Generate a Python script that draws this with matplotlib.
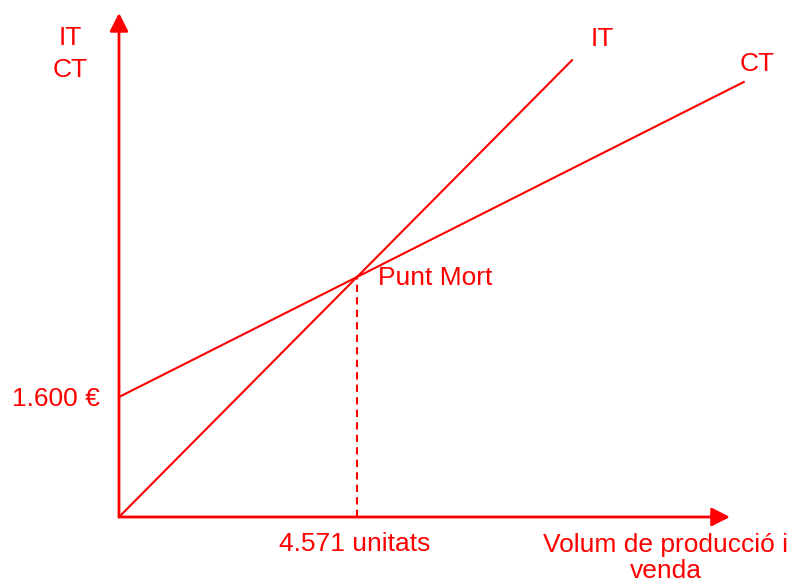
import numpy as np
import matplotlib
matplotlib.use("Agg")
import matplotlib.pyplot as plt

plt.rcParams['font.family'] = ['Liberation Sans', 'DejaVu Sans']

# dades del punt mort
cost_fix = 1600          # euros
preu = 0.7               # preu de venda per unitat
cost_var = 0.35          # cost variable per unitat
x_it_end = 8700          # final de la recta IT
x_ct_end = 12000         # final de la recta CT
x_axis_end = 11735
y_axis_end = 6720
punt_mort = cost_fix / (preu - cost_var)   # 4571 unitats

lbl_y = "IT\nCT"
lbl_x = "Volum de producció i\nvenda"
lbl_cf = "1.600 €"
lbl_pm = "Punt Mort"
lbl_q = "4.571 unitats"

red = '#FF0000'
W, H = 795, 584
# escala: unitats per pixel
sx = punt_mort / 238
sy = cost_fix / 120
ox, oy = 119, 517

fig = plt.figure(figsize=(W / 100, H / 100), dpi=100)
ax = fig.add_axes([ox / W, (H - oy) / H, (W - ox) / W, oy / H])
ax.set_xlim(0, (W - ox) * sx)
ax.set_ylim(0, oy * sy)
ax.axis('off')

# eixos amb fletxa
arr = dict(arrowstyle='-|>,head_length=0.55,head_width=0.28', mutation_scale=20,
           lw=2, color=red, shrinkA=0, shrinkB=0)
ax.annotate('', xy=(x_axis_end, 0), xytext=(0, 0), arrowprops=arr, annotation_clip=False)
ax.annotate('', xy=(0, y_axis_end), xytext=(0, 0), arrowprops=arr, annotation_clip=False)

# rectes IT i CT
x_it = np.array([0, x_it_end])
x_ct = np.array([0, x_ct_end])
ax.plot(x_it, preu * x_it, color=red, lw=1.5, clip_on=False)
ax.plot(x_ct, cost_fix + cost_var * x_ct, color=red, lw=1.5, clip_on=False)

# línia discontínua del punt mort
y_pm = preu * punt_mort
ax.plot([punt_mort, punt_mort], [0, y_pm], color=red, lw=1.5, ls=(0, (3.5, 2.5)))

fs = 19
kw = dict(textcoords='offset pixels', color=red, fontsize=fs, annotation_clip=False)
ax.annotate(lbl_y, xy=(0, y_axis_end), xytext=(-49, -41), ha='center', va='center',
            multialignment='center', linespacing=1.4, **kw)
ax.annotate(lbl_cf, xy=(0, cost_fix), xytext=(-19, -2), ha='right', va='center', **kw)
ax.annotate(lbl_pm, xy=(punt_mort, y_pm), xytext=(21, -1), ha='left', va='center', **kw)
ax.annotate(lbl_q, xy=(punt_mort, 0), xytext=(-2, -27), ha='center', va='center', **kw)
ax.annotate(lbl_x, xy=(x_axis_end, 0), xytext=(-64, -41), ha='center', va='center',
            multialignment='center', linespacing=1.1, **kw)
ax.annotate("IT", xy=(x_it_end, preu * x_it_end), xytext=(30, 21), ha='center', va='center', **kw)
ax.annotate("CT", xy=(x_ct_end, cost_fix + cost_var * x_ct_end), xytext=(13, 18),
            ha='center', va='center', **kw)

fig.savefig('out.png', dpi=100)
